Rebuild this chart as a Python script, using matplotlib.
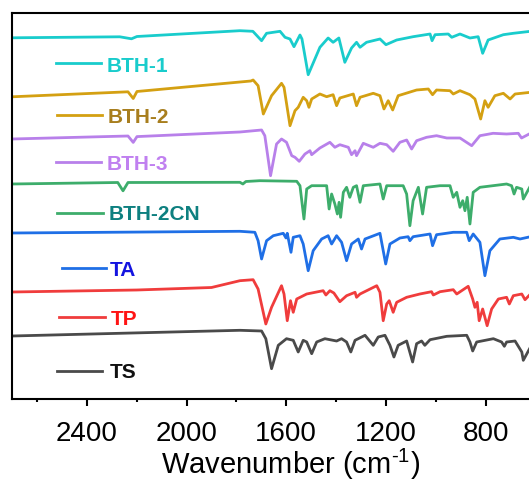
import matplotlib
matplotlib.use("Agg")
import matplotlib.pyplot as plt

# wavenumber (cm-1) and transmittance (a.u., stacked)
bth1_wn = [2701, 2268, 2221, 2199, 1786, 1734, 1699, 1679, 1625, 1605, 1585, 1569, 1545, 1537,
           1512, 1465, 1432, 1412, 1389, 1365, 1338, 1318, 1304, 1278, 1224, 1200, 1157, 1091,
           1023, 1015, 1003, 950, 936, 903, 863, 830, 812, 790, 729, 689, 620]
bth1_t = [361.2, 362.2, 360.2, 362.5, 368.3, 367.7, 358.3, 365.7, 367.7, 361.7, 360, 352.3, 364,
          360, 324.3, 351.7, 361, 356.7, 361, 336.7, 351, 356.7, 351.7, 356.7, 360, 354.3, 359,
          362.3, 365, 358.3, 364.3, 365, 361.7, 365, 361, 362.3, 345.7, 359, 364.3, 365.7, 367.7]

bth2_wn = [2701, 2235, 2214, 2199, 1742, 1733, 1713, 1692, 1659, 1619, 1609, 1585, 1565, 1552,
           1532, 1518, 1509, 1498, 1465, 1438, 1412, 1398, 1385, 1331, 1318, 1304, 1251, 1224,
           1208, 1191, 1173, 1151, 1077, 1030, 1013, 997, 943, 930, 903, 863, 843, 820, 803,
           790, 763, 729, 702, 682, 620]
bth2_t = [302.2, 307.2, 300.5, 307.5, 318, 319, 313.3, 285, 303.3, 315.7, 311.7, 273.3, 288.3,
          291.7, 301.7, 298.3, 291.7, 300, 305, 302.3, 304.3, 293.3, 301, 305, 293.3, 301.7,
          305.7, 303.3, 290, 298.3, 289, 303.3, 309, 310, 304.3, 309, 308.3, 305, 308.3, 304.3,
          300, 280, 298.3, 291.7, 303.3, 305.7, 300, 305, 306.7]

bth3_wn = [2701, 2235, 2214, 2199, 1786, 1699, 1686, 1663, 1639, 1619, 1599, 1578, 1565, 1548,
           1525, 1505, 1498, 1465, 1425, 1405, 1385, 1351, 1338, 1324, 1318, 1291, 1251, 1224,
           1197, 1171, 1144, 1117, 1097, 1077, 1037, 997, 956, 903, 856, 823, 770, 716, 669,
           656, 620]
bth3_t = [260, 263, 256.6, 262.4, 267, 269, 263.3, 223.3, 255, 260, 256.7, 243.3, 241.7, 237.7,
          245, 248.3, 244.3, 251, 256.7, 251.7, 254.3, 251.7, 244.3, 248.3, 243.3, 255.7, 251.7,
          255.7, 254.3, 247.7, 256.7, 259, 250, 258.3, 261.7, 263.3, 261, 261, 253.3, 263.3,
          265.7, 265, 265.7, 261, 265.7]

bth2cn_wn = [2701, 2276, 2255, 2235, 1786, 1774, 1762, 1706, 1558, 1545, 1529, 1518, 1498, 1438,
             1428, 1418, 1405, 1395, 1388, 1382, 1371, 1358, 1345, 1331, 1318, 1304, 1291, 1224,
             1211, 1197, 1131, 1117, 1104, 1091, 1070, 1053, 1037, 983, 943, 930, 916, 903, 892,
             883, 874, 863, 850, 823, 716, 696, 686, 676, 655, 649, 620]
bth2cn_t = [215, 216.5, 208.2, 216.5, 216.7, 215, 217.5, 218.3, 217.7, 213.3, 180, 210, 213.3,
            213.3, 190, 205, 195, 185, 196.7, 181.7, 206.7, 211.7, 201.7, 211.7, 213.3, 196.7,
            213.3, 215, 200, 213.3, 213.3, 205, 173.3, 198.3, 211.7, 185, 211.7, 213.3, 213.3,
            201.7, 206.7, 191.7, 198.3, 188.3, 201.7, 175, 206.7, 211.7, 215, 213.3, 205, 211.7,
            210, 200, 213.3]

ta_wn = [2701, 1786, 1726, 1713, 1699, 1679, 1652, 1612, 1601, 1596, 1581, 1572, 1545, 1532,
         1512, 1492, 1458, 1432, 1418, 1398, 1378, 1358, 1338, 1311, 1298, 1284, 1224, 1201,
         1184, 1144, 1111, 1104, 1091, 1023, 1013, 997, 930, 876, 866, 850, 823, 803, 783, 743,
         689, 662, 620]
ta_t = [166, 167.7, 166.7, 158.3, 140, 158.3, 163.3, 165.7, 161, 165.7, 146.7, 161.7, 163.3, 155,
        128.3, 148.3, 160, 163.3, 155, 163.3, 156.7, 138.3, 155, 160, 150, 160, 165.7, 135, 155,
        161, 162.3, 158.3, 162.3, 165, 153.3, 164.3, 166.7, 166.7, 158.3, 165, 156.7, 123.3,
        148.3, 160, 161.7, 160, 162.3]

tp_wn = [2701, 2200, 1900, 1786, 1733, 1713, 1682, 1659, 1619, 1609, 1596, 1583, 1572, 1558, 1518,
         1452, 1441, 1425, 1409, 1385, 1358, 1324, 1318, 1304, 1237, 1224, 1211, 1197, 1187,
         1171, 1157, 1117, 1064, 1017, 1010, 983, 930, 916, 870, 852, 843, 834, 826, 812, 794,
         776, 749, 716, 705, 689, 655, 642, 620]
tp_t = [107, 109, 111.5, 118.3, 119.3, 110, 75, 91.7, 113.3, 105, 78.3, 98.3, 86.7, 100, 105, 108.3,
        104, 108.3, 106, 97.3, 103.3, 106.7, 101.7, 105, 113.3, 106.7, 78.3, 95, 98.3, 86.7,
        96.7, 101.7, 105, 107.3, 104, 107.3, 109.3, 105, 112.7, 100, 91.7, 96.7, 78.3, 90, 73.3,
        90, 100, 101.7, 95, 103.3, 105, 99.3, 105]

ts_wn = [2701, 1786, 1699, 1682, 1659, 1632, 1599, 1572, 1552, 1532, 1518, 1498, 1478, 1445,
         1398, 1378, 1358, 1341, 1324, 1284, 1251, 1231, 1204, 1184, 1168, 1151, 1117, 1093,
         1077, 1057, 1044, 1023, 956, 876, 863, 852, 836, 769, 736, 725, 716, 682, 655, 649, 620]
ts_t = [63, 68.7, 68, 60.3, 30.3, 53.7, 60.3, 58.7, 47, 58.7, 57, 45.3, 57, 60.3, 58, 60.3, 57,
        47, 58.7, 63.7, 53.7, 62, 63.7, 53.7, 42, 53.7, 58, 37, 55.3, 58, 53.7, 59.3, 62.7, 63.7,
        57, 48, 57, 60.3, 57, 52.7, 57, 58, 47, 38.7, 52]

labels = ["BTH-1", "BTH-2", "BTH-3", "BTH-2CN", "TA", "TP", "TS"]
line_colors = ["#19CCCC", "#D4A012", "#B880EA", "#3DAD6B", "#1F6FE6", "#F03C3C", "#4A4A4A"]
text_colors = ["#19CCCC", "#A87E1E", "#C080F0", "#0E8080", "#1414E0", "#FF1414", "#111111"]

spectra = [(bth1_wn, bth1_t), (bth2_wn, bth2_t), (bth3_wn, bth3_t), (bth2cn_wn, bth2cn_t),
           (ta_wn, ta_t), (tp_wn, tp_t), (ts_wn, ts_t)]

# label placement (axes fraction): key line x range, key line y, text x, text baseline y
key_x = [(0.083, 0.170), (0.085, 0.172), (0.083, 0.170), (0.086, 0.174),
         (0.096, 0.179), (0.090, 0.177), (0.085, 0.172)]
key_y = [0.869, 0.734, 0.612, 0.482, 0.338, 0.211, 0.072]
txt_x = [0.181, 0.183, 0.181, 0.184, 0.187, 0.188, 0.187]
txt_y = [0.849, 0.716, 0.594, 0.466, 0.322, 0.194, 0.058]

plt.rcParams['font.family'] = ['Liberation Sans', 'DejaVu Sans']
plt.rcParams['mathtext.fontset'] = 'custom'
plt.rcParams['mathtext.rm'] = 'Liberation Sans'

fig = plt.figure(figsize=(5.29, 4.81), dpi=100)
ax = fig.add_axes([12.1 / 529, 81 / 481, 523.4 / 529, 386.5 / 481])

for (wn, t), c in zip(spectra, line_colors):
    ax.plot(wn, t, color=c, lw=2.0, solid_joinstyle='round')

for i, lab in enumerate(labels):
    ax.plot(key_x[i], [key_y[i], key_y[i]], color=line_colors[i], lw=2.0,
            transform=ax.transAxes, clip_on=False)
    ax.text(txt_x[i], txt_y[i], lab, transform=ax.transAxes, color=text_colors[i],
            fontsize=15, fontweight='bold', va='baseline', ha='left')

ax.set_xlim(2700, 600)
ax.set_ylim(0, 386.5)
ax.set_xticks([2400, 2000, 1600, 1200, 800])
ax.set_xticks([2600, 2200, 1800, 1400, 1000, 600], minor=True)
ax.set_yticks([])
ax.tick_params(axis='x', which='major', direction='out', length=5, width=1.5, labelsize=20, pad=10)
ax.tick_params(axis='x', which='minor', direction='out', length=2.5, width=1.5)
for s in ax.spines.values():
    s.set_linewidth(1.5)
ax.set_xlabel(r"Wavenumber (cm$^{\text{-1}}$)", fontsize=21)
ax.xaxis.set_label_coords(0.532, -0.12)

fig.savefig("out.png", dpi=100)
